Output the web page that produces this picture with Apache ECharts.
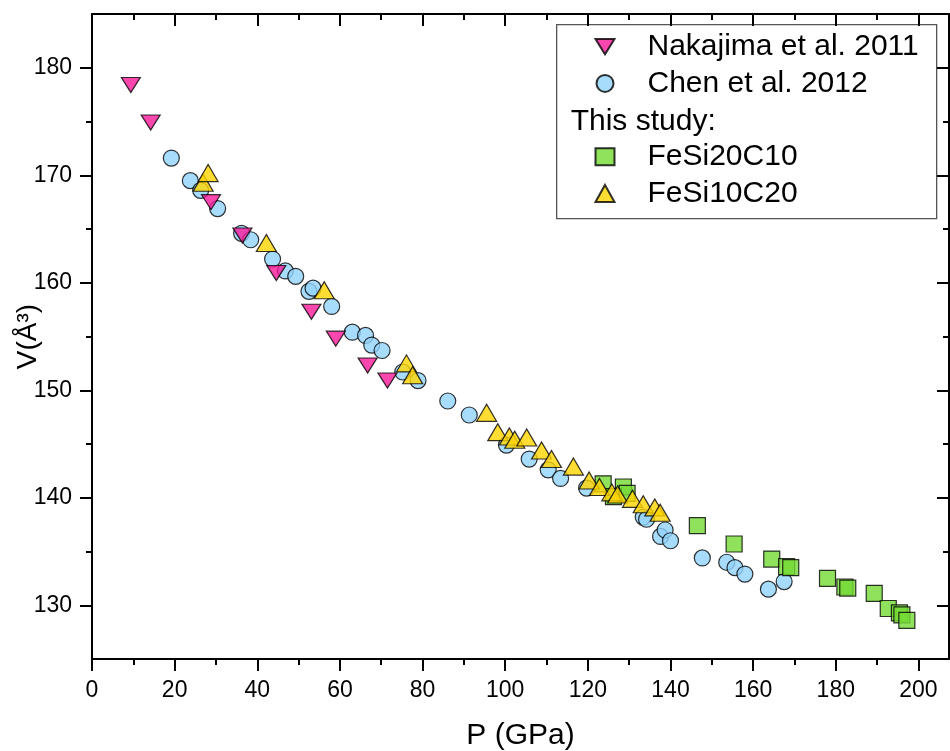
<!DOCTYPE html>
<html>
<head>
<meta charset="utf-8">
<script src="https://cdn.jsdelivr.net/npm/echarts@6/dist/echarts.min.js"></script>
<style>
html,body{margin:0;padding:0;background:#fff;}
#chart{width:950px;height:751px;}
</style>
</head>
<body>
<div id="chart"></div>
<script>
// ---- data ----
const nakajimaP = [9.4, 14.2, 28.8, 36.4, 44.6, 53.1, 59.0, 66.7, 71.5];
const nakajimaV = [178.4, 174.9, 167.5, 164.4, 160.9, 157.3, 154.8, 152.3, 150.9];

const chenP = [19.2, 23.8, 26.3, 30.4, 36.2, 38.4, 43.7, 46.8, 49.3, 52.5, 53.5, 58.0, 63.0, 66.2, 67.7, 70.2, 75.2, 78.9, 86.1, 91.3, 100.3, 105.8, 110.4, 113.4, 119.7, 133.4, 134.2, 137.6, 138.7, 140.0, 147.7, 153.6, 155.6, 158.0, 163.7, 167.5];
const chenV = [171.6, 169.5, 168.6, 166.9, 164.6, 164.0, 162.2, 161.1, 160.6, 159.2, 159.5, 157.8, 155.4, 155.1, 154.2, 153.7, 151.7, 150.9, 149.0, 147.7, 144.9, 143.6, 142.6, 141.8, 140.9, 138.2, 138.0, 136.4, 137.0, 136.0, 134.4, 134.0, 133.5, 132.9, 131.5, 132.2];

const fesi20c10P = [123.7, 128.6, 126.2, 129.5, 146.5, 155.4, 164.5, 168.1, 169.1, 178.0, 182.2, 182.9, 189.3, 192.7, 195.4, 196.0, 197.2];
const fesi20c10V = [141.3, 141.0, 140.1, 140.4, 137.4, 135.7, 134.3, 133.6, 133.5, 132.5, 131.7, 131.6, 131.1, 129.7, 129.3, 129.1, 128.6];

const fesi10c20P = [26.9, 28.1, 42.2, 56.2, 76.1, 77.6, 95.5, 98.2, 101.0, 102.3, 105.2, 108.8, 111.2, 116.5, 120.3, 122.8, 125.8, 127.2, 130.8, 133.4, 136.2, 137.5];
const fesi10c20V = [169.3, 170.2, 163.7, 159.3, 152.5, 151.4, 147.9, 146.1, 145.7, 145.4, 145.6, 144.4, 143.6, 142.9, 141.6, 141.0, 140.5, 140.3, 139.9, 139.4, 139.1, 138.6];

const xMajorTicks = [0, 20, 40, 60, 80, 100, 120, 140, 160, 180, 200];
const xMinorTicks = [10, 30, 50, 70, 90, 110, 130, 150, 170, 190];
const yMajorTicks = [130, 140, 150, 160, 170, 180];
const yMinorTicks = [135, 145, 155, 165, 175];

const seriesNames = ['Nakajima et al. 2011', 'Chen et al. 2012', 'FeSi20C10', 'FeSi10C20'];
const legendHeader = 'This study:';
const xTitle = 'P (GPa)';
const yTitle = 'V(Å³)';

// ---- build ----
function pairs(a, b) { return a.map((v, i) => [v, b[i]]); }
const FONT = '"Liberation Sans", Arial, Helvetica, sans-serif';
const X_MIN = 0, X_MAX = 207.4, Y_MIN = 125, Y_MAX = 185;
const DOWN_TRIANGLE = 'path://M0,0 L20,0 L10,16 Z';

function xAx(pos, ticks, len, inside, showLine, showLabel, extra) {
  return Object.assign({
    type: 'value', position: pos, min: X_MIN, max: X_MAX,
    axisLine: { show: showLine, onZero: false, lineStyle: { color: '#000', width: 2 } },
    axisTick: { show: true, inside: inside, length: len, customValues: ticks, lineStyle: { color: '#000', width: 2 } },
    axisLabel: { show: showLabel, customValues: ticks, fontSize: 23, margin: 20, color: '#000', fontFamily: FONT },
    splitLine: { show: false }
  }, extra || {});
}
function yAx(pos, ticks, len, inside, showLine, showLabel, extra) {
  return Object.assign({
    type: 'value', position: pos, min: Y_MIN, max: Y_MAX,
    axisLine: { show: showLine, onZero: false, lineStyle: { color: '#000', width: 2 } },
    axisTick: { show: true, inside: inside, length: len, customValues: ticks, lineStyle: { color: '#000', width: 2 } },
    axisLabel: { show: showLabel, customValues: ticks, fontSize: 23, margin: 20, color: '#000', fontFamily: FONT },
    splitLine: { show: false }
  }, extra || {});
}

const border = { borderColor: '#000', borderWidth: 1.2 };
const legendText = { fontSize: 30, lineHeight: 30, color: '#000', fontFamily: FONT, padding: [0, 0, 0, 28] };

const option = {
  animation: false,
  backgroundColor: '#fff',
  grid: { left: 92, right: 1, top: 14, bottom: 92, containLabel: false, outerBoundsMode: 'none' },
  xAxis: [
    xAx('bottom', xMajorTicks, 12, false, true, true, {
      name: xTitle, nameLocation: 'middle', nameGap: 62, nameMoveOverlap: false,
      nameTextStyle: { fontSize: 30, color: '#000', fontFamily: FONT }
    }),
    xAx('bottom', xMinorTicks, 6, false, false, false),
    xAx('top', xMajorTicks, 12, true, true, false),
    xAx('top', xMinorTicks, 6, true, false, false)
  ],
  yAxis: [
    yAx('left', yMajorTicks, 12, false, true, true, {
      name: yTitle, nameLocation: 'middle', nameGap: 50, nameRotate: 90, nameMoveOverlap: false,
      nameTextStyle: { fontSize: 28, color: '#000', fontFamily: FONT }
    }),
    yAx('left', yMinorTicks, 6, false, false, false),
    yAx('right', yMajorTicks, 12, true, true, false),
    yAx('right', yMinorTicks, 6, true, false, false)
  ],
  legend: [
    {
      orient: 'vertical', left: 594.5, top: 31.7, padding: 0, itemGap: 6.7,
      itemWidth: 19, itemHeight: 17,
      data: [{ name: seriesNames[0], icon: DOWN_TRIANGLE }, { name: seriesNames[1] }],
      textStyle: legendText
    },
    {
      orient: 'vertical', left: 594.5, top: 141.7, padding: 0, itemGap: 6.7,
      itemWidth: 19, itemHeight: 17,
      data: [seriesNames[2], seriesNames[3]],
      textStyle: legendText
    }
  ],
  graphic: [
    {
      type: 'rect', z: 0, left: 556, top: 24,
      shape: { width: 380, height: 194 },
      style: { fill: '#fff', stroke: '#555', lineWidth: 1.3 }
    },
    {
      type: 'text', z: 10, left: 570.7, top: 106.5,
      style: { text: legendHeader, fontSize: 30, lineHeight: 30, fill: '#000', font: '30px ' + FONT }
    }
  ],
  series: [
    {
      name: seriesNames[1], type: 'scatter', symbol: 'circle', symbolSize: 16,
      data: pairs(chenP, chenV),
      itemStyle: Object.assign({ color: '#92D3FB' }, border)
    },
    {
      name: seriesNames[2], type: 'scatter', symbol: 'rect', symbolSize: 16,
      data: pairs(fesi20c10P, fesi20c10V),
      itemStyle: Object.assign({ color: '#74DB34' }, border)
    },
    {
      name: seriesNames[3], type: 'scatter', symbol: 'triangle', symbolSize: [20, 17],
      data: pairs(fesi10c20P, fesi10c20V),
      itemStyle: Object.assign({ color: '#FFD500' }, border)
    },
    {
      name: seriesNames[0], type: 'scatter', symbol: 'triangle', symbolRotate: 180, symbolSize: [19, 15],
      data: pairs(nakajimaP, nakajimaV),
      itemStyle: Object.assign({ color: '#F7199A' }, border)
    }
  ]
};

const chart = echarts.init(document.getElementById('chart'), null, { renderer: 'canvas' });
chart.setOption(option);
</script>
</body>
</html>
